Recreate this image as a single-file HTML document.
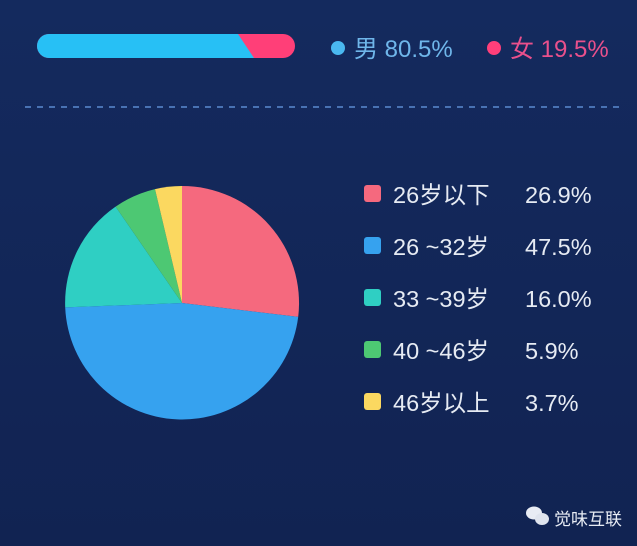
<!DOCTYPE html>
<html><head><meta charset="utf-8"><style>
body{margin:0;background:#13275a;}
svg{display:block}
text{font-family:"Liberation Sans","Noto Sans CJK SC",sans-serif;}
</style></head><body>
<svg width="637" height="546" viewBox="0 0 637 546">
<defs><linearGradient id="bg" x1="0" y1="0" x2="0" y2="1"><stop offset="0" stop-color="#142a5e"/><stop offset="1" stop-color="#112352"/></linearGradient>
<clipPath id="bar"><rect x="37" y="34" width="258" height="24" rx="12"/></clipPath></defs>
<rect width="637" height="546" fill="url(#bg)"/>
<g clip-path="url(#bar)">
<rect x="37" y="34" width="258" height="24" fill="#ff3f78"/>
<polygon points="37,34 238,34 254,58 37,58" fill="#27c0f5"/>
</g>
<circle cx="338" cy="48" r="7" fill="#4ab8f0"/>
<text x="354" y="57" font-size="24" fill="#6fb6ea">男 80.5%</text>
<circle cx="494" cy="48" r="7" fill="#ff3f7a"/>
<text x="510" y="57" font-size="24" fill="#e9508c">女 19.5%</text>
<line x1="25" y1="107" x2="622" y2="107" stroke="#5b8ad0" stroke-width="1.5" stroke-dasharray="6,6"/>
<g>
<path d="M182,303 L182,186 A117,117 0 0 1 298.2,316.9 Z" fill="#f5697e"/>
<path d="M182,303 L298.2,316.9 A117,117 0 0 1 65.2,307.4 Z" fill="#36a2ef"/>
<path d="M182,303 L65.2,307.4 A117,117 0 0 1 115.6,206.6 Z" fill="#2fcfc3"/>
<path d="M182,303 L115.6,206.6 A117,117 0 0 1 155,189.1 Z" fill="#4dc873"/>
<path d="M182,303 L155,189.1 A117,117 0 0 1 182,186 Z" fill="#fbd860"/>
</g>
<g font-size="23.5" fill="#e6ebf3">
<rect x="364" y="185" width="17" height="17" rx="3" fill="#f5697e"/>
<text x="393" y="203">26岁以下</text><text x="525" y="203">26.9%</text>
<rect x="364" y="237" width="17" height="17" rx="3" fill="#36a2ef"/>
<text x="393" y="255">26 ~32岁</text><text x="525" y="255">47.5%</text>
<rect x="364" y="289" width="17" height="17" rx="3" fill="#2fcfc3"/>
<text x="393" y="307">33 ~39岁</text><text x="525" y="307">16.0%</text>
<rect x="364" y="341" width="17" height="17" rx="3" fill="#4dc873"/>
<text x="393" y="359">40 ~46岁</text><text x="525" y="359">5.9%</text>
<rect x="364" y="393" width="17" height="17" rx="3" fill="#fbd860"/>
<text x="393" y="411">46岁以上</text><text x="525" y="411">3.7%</text>
</g>
<g fill="#e8ecf4">
<ellipse cx="534" cy="513" rx="8" ry="6.5"/>
<ellipse cx="542" cy="519" rx="7" ry="6" fill="#dfe4ee"/>
<text x="554" y="525" font-size="17">觉味互联</text>
</g>
</svg>
</body></html>
